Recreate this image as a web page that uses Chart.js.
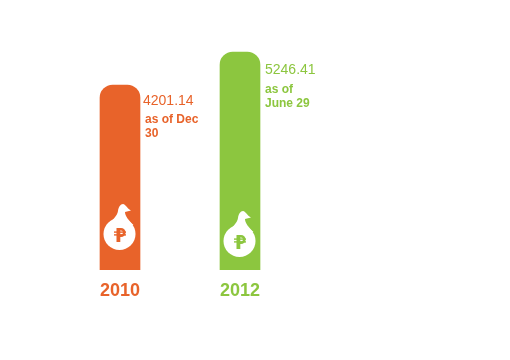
<!DOCTYPE html>
<html lang="en">
<head>
  <meta charset="UTF-8" />
  <title>Savings</title>
  <script src="https://cdn.jsdelivr.net/npm/chart.js"></script>
  <style>
    html, body { margin: 0; padding: 0; background: #fff; }
    canvas { display: block; }
  </style>
</head>
<body>
  <canvas id="savingsChart" width="510" height="360"></canvas>

  <script>
    const years = ["2010", "2012"];
    const amounts = [4201.14, 5246.41];
    const asOfLines = [["as of Dec", "30"], ["as of", "June 29"]];
    const colors = ["#e8632a", "#8cc63f"];
    // bars do not start at zero in the original
    const axisMin = -1657;
    const axisMax = 6260;

    const FONT = '"Liberation Sans", Arial, sans-serif';

    // money bag + peso sign sitting at the foot of each bar
    function drawBag(ctx, cx, cy, color) {
      ctx.save();
      ctx.fillStyle = "#fff";
      ctx.beginPath();
      ctx.arc(cx, cy, 16, 0, Math.PI * 2);
      ctx.fill();

      ctx.beginPath();
      ctx.moveTo(cx - 13, cy - 9);
      ctx.bezierCurveTo(cx - 8, cy - 13, cx - 2, cy - 18, cx - 1.5, cy - 23);
      ctx.bezierCurveTo(cx - 1, cy - 27, cx + 1, cy - 30, cx + 3.5, cy - 30);
      ctx.bezierCurveTo(cx + 6, cy - 30, cx + 7, cy - 26, cx + 11.5, cy - 23.5);
      ctx.lineTo(cx + 5.5, cy - 22);
      ctx.bezierCurveTo(cx + 5.5, cy - 18, cx + 9, cy - 14, cx + 14, cy - 9);
      ctx.closePath();
      ctx.fill();

      // peso sign
      ctx.fillStyle = color;
      ctx.strokeStyle = color;
      ctx.fillRect(cx - 3, cy - 6, 3.8, 14);
      ctx.fillRect(cx - 5.5, cy - 2.6, 12, 1.4);
      ctx.fillRect(cx - 5.5, cy + 0.2, 12, 1.4);
      ctx.lineWidth = 2.6;
      ctx.beginPath();
      ctx.moveTo(cx - 1, cy - 4.8);
      ctx.lineTo(cx + 1.5, cy - 4.8);
      ctx.arc(cx + 1.5, cy - 1.5, 3.3, -Math.PI / 2, Math.PI / 2);
      ctx.lineTo(cx - 1, cy + 1.8);
      ctx.stroke();
      ctx.restore();
    }

    const barNotes = {
      id: "barNotes",
      afterDatasetsDraw(chart) {
        const ctx = chart.ctx;
        const bars = chart.getDatasetMeta(0).data;
        bars.forEach((bar, i) => {
          const right = bar.x + 20;
          ctx.save();
          ctx.fillStyle = colors[i];
          ctx.textAlign = "left";
          ctx.textBaseline = "alphabetic";
          ctx.font = "14px " + FONT;
          ctx.fillText(amounts[i].toFixed(2), right + (i === 0 ? 3 : 5), bar.y + (i === 0 ? 20 : 22));
          ctx.font = "bold 12px " + FONT;
          asOfLines[i].forEach((line, n) => {
            ctx.fillText(line, right + 5, bar.y + (i === 0 ? 38 : 41) + n * 14);
          });
          ctx.restore();
          drawBag(ctx, bar.x - 0.5, bar.base - (i === 0 ? 36 : 29), colors[i]);
        });
      }
    };

    new Chart(document.getElementById("savingsChart"), {
      type: "bar",
      data: {
        labels: years,
        datasets: [{
          data: amounts,
          base: axisMin,
          backgroundColor: colors,
          barThickness: 40,
          borderSkipped: false,
          borderRadius: { topLeft: 13, topRight: 13, bottomLeft: 0, bottomRight: 0 }
        }]
      },
      options: {
        responsive: false,
        animation: false,
        layout: { padding: { left: 60, right: 210, top: 20, bottom: 0 } },
        plugins: { legend: { display: false }, tooltip: { enabled: false } },
        scales: {
          x: {
            grid: { display: false },
            border: { display: false },
            afterFit(scale) { scale.height = 90; },
            ticks: {
              padding: 2,
              maxRotation: 0,
              color: (c) => colors[c.index],
              font: { family: FONT, size: 18, weight: "bold" }
            }
          },
          y: { display: false, min: axisMin, max: axisMax }
        }
      },
      plugins: [barNotes]
    });
  </script>
</body>
</html>
